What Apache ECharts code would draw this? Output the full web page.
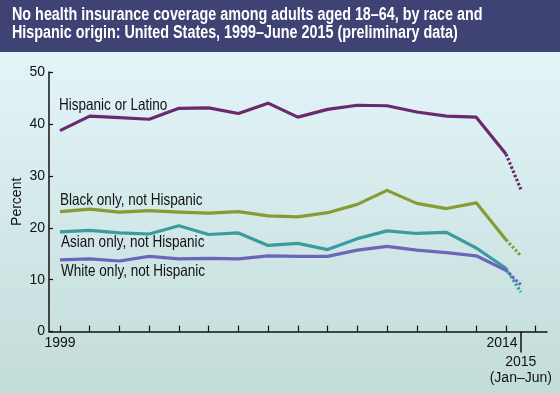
<!DOCTYPE html>
<html>
<head>
<meta charset="utf-8">
<script src="https://cdn.jsdelivr.net/npm/echarts@6/dist/echarts.min.js"></script>
<style>html,body{margin:0;padding:0;}#c{width:560px;height:394px;}</style>
</head>
<body>
<div id="c"></div>
<script>
const years = [1999,2000,2001,2002,2003,2004,2005,2006,2007,2008,2009,2010,2011,2012,2013,2014];
const partialYearPos = 2014.5; // "2015 (Jan–Jun)"
const hispanic = [38.7,41.5,41.2,40.9,43.0,43.1,42.0,44.0,41.3,42.8,43.6,43.5,42.3,41.5,41.3,34.2];
const hispanic2015 = 27.4;
const black = [23.1,23.6,23.0,23.3,23.0,22.8,23.1,22.3,22.1,22.9,24.5,27.2,24.7,23.7,24.8,17.7];
const black2015 = 14.6;
const asian = [19.2,19.5,19.0,18.8,20.4,18.7,19.0,16.6,17.0,15.8,17.9,19.4,18.9,19.1,16.1,12.2];
const asian2015 = 7.6;
const white = [13.8,14.0,13.6,14.5,14.0,14.1,14.0,14.6,14.5,14.5,15.7,16.4,15.7,15.2,14.6,11.8];
const white2015 = 9.0;
const seriesNames = ["Hispanic or Latino","Black only, not Hispanic","Asian only, not Hispanic","White only, not Hispanic"];
const titleLines = ["No health insurance coverage among adults aged 18–64, by race and",
                    "Hispanic origin: United States, 1999–June 2015 (preliminary data)"];
const yTicks = [0,10,20,30,40,50];
const xTickYears = [1999,2000,2001,2002,2003,2004,2005,2006,2007,2008,2009,2010,2011,2012,2013,2014,2015];
const xLabelYears = [1999, 2014];

const FONT = '"Liberation Sans",Arial,sans-serif';
const NARROW = 0.82;
const colors = ['#6a2a6c','#879b34','#3a9c9f','#6b66b9'];
const allData = [hispanic, black, asian, white];
const partial = [hispanic2015, black2015, asian2015, white2015];

const series = [];
allData.forEach((arr, i) => {
  series.push({
    type: 'line', name: seriesNames[i],
    data: years.map((y, k) => [y, arr[k]]),
    symbol: 'none', lineStyle: {color: colors[i], width: 3.2, join: 'round'}, z: 3
  });
  series.push({
    type: 'line',
    data: [[years[years.length-1], arr[arr.length-1]], [partialYearPos, partial[i]]],
    symbol: 'none', lineStyle: {color: colors[i], width: 3.2, type: [2.5, 2], cap: 'butt'}, z: 3
  });
});

const labelPos = [[59, 105.7], [60, 200], [61, 242.7], [61, 271.7]];
const graphics = [
  {type: 'rect', shape: {x: 0, y: 0, width: 560, height: 52}, style: {fill: '#3f4374'}, z: -1, silent: true},
  {type: 'text', x: 12, y: 15.5, scaleX: NARROW, style: {text: titleLines[0], font: 'bold 17.5px ' + FONT, fill: '#fff', verticalAlign: 'middle'}},
  {type: 'text', x: 12, y: 33.5, scaleX: NARROW, style: {text: titleLines[1], font: 'bold 17.5px ' + FONT, fill: '#fff', verticalAlign: 'middle'}}
];
seriesNames.forEach((n, i) => {
  graphics.push({type: 'text', x: labelPos[i][0], y: labelPos[i][1], scaleX: NARROW,
    style: {text: n, font: '16.5px ' + FONT, fill: '#111', verticalAlign: 'middle'}});
});

const chart = echarts.init(document.getElementById('c'));
chart.setOption({
  animation: false,
  backgroundColor: new echarts.graphic.LinearGradient(0, 0, 0, 1, [
    {offset: 0, color: '#e6f6fa'}, {offset: 0.15, color: '#e3f4f8'}, {offset: 1, color: '#c2dcd9'}
  ]),
  grid: {left: 49, right: 13, top: 72, bottom: 62.4, containLabel: false, outerBoundsMode: 'none'},
  xAxis: [{
    type: 'value', min: 1998.63, max: 2015.38,
    axisLine: {lineStyle: {color: '#111', width: 1.5}},
    axisTick: {inside: true, length: 6, lineStyle: {color: '#111', width: 1.2}, customValues: xTickYears},
    axisLabel: {customValues: xLabelYears, margin: 5, color: '#111', fontFamily: FONT, fontSize: 14,
      formatter: v => v === 2014 ? '{a|2014}' : String(v),
      rich: {a: {padding: [0, 8, 0, 0], fontFamily: FONT, fontSize: 14, color: '#111'}}},
    splitLine: {show: false}
  }, {
    type: 'value', min: 1998.63, max: 2015.38, position: 'bottom',
    axisLine: {show: false},
    axisTick: {show: true, inside: false, length: 21, lineStyle: {color: '#111', width: 1.5}, customValues: [partialYearPos]},
    axisLabel: {customValues: [partialYearPos], margin: 23, color: '#111', fontFamily: FONT, fontSize: 14, lineHeight: 16,
      formatter: () => '2015\n(Jan–Jun)'},
    splitLine: {show: false}
  }],
  yAxis: {
    type: 'value', min: 0, max: 50, interval: 10,
    name: 'Percent', nameLocation: 'middle', nameGap: 25, nameRotate: 90, nameMoveOverlap: false,
    nameTextStyle: {color: '#111', fontFamily: FONT, fontSize: 14},
    axisLine: {show: true, lineStyle: {color: '#111', width: 1.5}},
    axisTick: {show: true, inside: true, length: 4, lineStyle: {color: '#111', width: 1.2}},
    axisLabel: {margin: 4, color: '#111', fontFamily: FONT, fontSize: 14, formatter: v => yTicks.includes(v) ? String(v) : ''},
    splitLine: {show: false}
  },
  graphic: graphics,
  series: series
});
</script>
</body>
</html>
